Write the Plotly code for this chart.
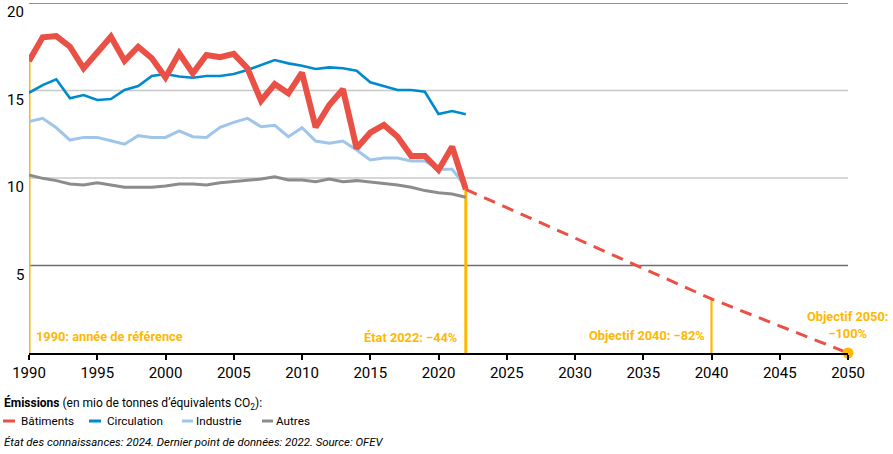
import plotly.graph_objects as go

years = list(range(1990, 2023))
batiments = [16.69, 18.04, 18.11, 17.5, 16.27, 17.22, 18.07, 16.7, 17.5, 16.84, 15.75,
             17.13, 15.98, 17.03, 16.9, 17.09, 16.27, 14.42, 15.37, 14.84, 16.02,
             12.9, 14.17, 15.07, 11.7, 12.59, 13.03, 12.36, 11.26, 11.26, 10.46, 11.79, 9.35]
circulation = [14.87, 15.31, 15.64, 14.55, 14.74, 14.46, 14.51, 15.03, 15.26, 15.83, 15.94,
               15.8, 15.73, 15.83, 15.83, 15.94, 16.17, 16.46, 16.74, 16.55, 16.42,
               16.23, 16.32, 16.27, 16.13, 15.47, 15.26, 15.03, 15.03, 14.93, 13.66, 13.83, 13.64]
industrie = [13.22, 13.41, 12.87, 12.17, 12.32, 12.32, 12.13, 11.93, 12.42, 12.32, 12.32,
             12.69, 12.36, 12.32, 12.9, 13.18, 13.41, 12.93, 13.01, 12.36, 12.87,
             12.11, 11.98, 12.11, 11.6, 11.03, 11.14, 11.14, 10.97, 10.97, 10.5, 10.5, 9.5]
autres = [10.17, 9.98, 9.85, 9.66, 9.6, 9.73, 9.6, 9.47, 9.47, 9.47, 9.54,
          9.66, 9.66, 9.6, 9.73, 9.79, 9.85, 9.94, 10.07, 9.89, 9.89,
          9.79, 9.94, 9.79, 9.85, 9.77, 9.66, 9.6, 9.47, 9.28, 9.16, 9.09, 8.9]

trend_years = [2022, 2040, 2050]
trend_values = [9.35, 3.09, 0.0]

marker_years = [1990, 2022, 2040]
marker_values = [16.69, 9.35, 3.09]

x_ticks = list(range(1990, 2051, 5))
y_ticks = [5, 10, 15, 20]

RED = "rgb(233,80,70)"
BLUE = "rgb(0,138,204)"
LBLUE = "rgb(160,197,234)"
GREY = "rgb(140,140,140)"
YEL = "rgb(255,184,0)"
FONT = "Roboto, Arial, sans-serif"

fig = go.Figure()

# yellow reference lines
widths = [3, 3, 2.2]
for xv, yv, w in zip(marker_years, marker_values, widths):
    fig.add_trace(go.Scatter(x=[xv, xv], y=[0, yv], mode="lines",
                             line=dict(color=YEL, width=w), showlegend=False,
                             hoverinfo="skip", cliponaxis=False))

fig.add_trace(go.Scatter(x=years, y=autres, mode="lines", name="Autres",
                         line=dict(color=GREY, width=3), showlegend=False))
fig.add_trace(go.Scatter(x=years, y=industrie, mode="lines", name="Industrie",
                         line=dict(color=LBLUE, width=3), showlegend=False))
fig.add_trace(go.Scatter(x=years, y=circulation, mode="lines", name="Circulation",
                         line=dict(color=BLUE, width=2.6), showlegend=False))
fig.add_trace(go.Scatter(x=years, y=batiments, mode="lines", name="Bâtiments",
                         line=dict(color=RED, width=6), showlegend=False))
fig.add_trace(go.Scatter(x=trend_years, y=trend_values, mode="lines",
                         line=dict(color=RED, width=3, dash="12px,8px"),
                         showlegend=False, hoverinfo="skip"))
fig.add_trace(go.Scatter(x=[trend_years[-1]], y=[trend_values[-1]], mode="markers",
                         marker=dict(color=YEL, size=11), showlegend=False,
                         cliponaxis=False, hoverinfo="skip"))

# gridlines
grid_cols = {5: "rgb(110,110,110)", 10: "rgb(200,200,200)", 15: "rgb(200,200,200)", 20: "rgb(110,110,110)"}
for v in y_ticks:
    fig.add_shape(type="line", xref="x", yref="y", x0=1990, x1=2050, y0=v, y1=v,
                  line=dict(color=grid_cols[v], width=1.3), layer="below")

ann = []
# y tick labels (sit slightly below their gridlines, as in the reference)
for v in y_ticks:
    ann.append(dict(x=0, y=v, xref="paper", yref="y", xanchor="right", yanchor="middle",
                    xshift=-3, yshift=-9, text=str(v), showarrow=False,
                    font=dict(color="black", size=15, family=FONT)))

YS = 12.8
ann.append(dict(x=1990, y=0.97, xref="x", yref="y", xanchor="left", yanchor="middle",
                xshift=5, text="<b>1990: année de référence</b>", showarrow=False,
                font=dict(color=YEL, size=YS, family=FONT)))
ann.append(dict(x=2022, y=0.91, xref="x", yref="y", xanchor="right", yanchor="middle",
                xshift=-7, text="<b>État 2022: −44%</b>", showarrow=False,
                font=dict(color=YEL, size=YS, family=FONT)))
ann.append(dict(x=2040, y=1.0, xref="x", yref="y", xanchor="right", yanchor="middle",
                xshift=-5, text="<b>Objectif 2040: −82%</b>", showarrow=False,
                font=dict(color=YEL, size=YS, family=FONT)))
ann.append(dict(x=2050, y=1.6, xref="x", yref="y", xanchor="center", yanchor="middle",
                xshift=-1, text="<b>Objectif 2050:<br>−100%</b>", showarrow=False,
                align="center", font=dict(color=YEL, size=YS, family=FONT)))

def px_x(x):
    return (x - 29) / 819.0

def px_y(y):
    return (353 - y) / 350.0

ann.append(dict(x=px_x(2), y=px_y(403), xref="paper", yref="paper", xanchor="left",
                yanchor="middle", showarrow=False,
                text="<b>Émissions</b> (en mio de tonnes d’équivalents CO<sub>2</sub>):",
                font=dict(color="black", size=12, family=FONT)))

legend_items = [("Bâtiments", RED, 3, 15, 19), ("Circulation", BLUE, 89, 101, 105),
                ("Industrie", LBLUE, 182, 193, 194), ("Autres", GREY, 262, 273, 274)]
for name, col, x0, x1, xt in legend_items:
    fig.add_shape(type="line", xref="paper", yref="paper", x0=px_x(x0), x1=px_x(x1),
                  y0=px_y(421), y1=px_y(421), line=dict(color=col, width=3))
    ann.append(dict(x=px_x(xt), y=px_y(421), xref="paper", yref="paper", xanchor="left",
                    yanchor="middle", showarrow=False, text=name,
                    font=dict(color="black", size=11.7, family=FONT)))

ann.append(dict(x=px_x(2), y=px_y(442), xref="paper", yref="paper", xanchor="left",
                yanchor="middle", showarrow=False,
                text="<i>État des connaissances: 2024. Dernier point de données: 2022. Source: OFEV</i>",
                font=dict(color="black", size=11.4, family=FONT)))

fig.update_layout(
    width=893, height=454,
    margin=dict(l=29, r=45, t=3, b=101, autoexpand=False),
    paper_bgcolor="white", plot_bgcolor="white",
    font=dict(family=FONT, size=13, color="black"),
    annotations=ann,
    showlegend=False,
)
fig.update_xaxes(range=[1990, 2050], tickvals=x_ticks, ticks="outside", ticklen=5,
                 tickwidth=1.5, tickcolor="black", showline=True, linecolor="black",
                 linewidth=1.5, showgrid=False, zeroline=False, automargin=False,
                 tickfont=dict(size=15, family=FONT), ticklabelstandoff=0)
fig.update_yaxes(range=[0, 20], tickvals=y_ticks, showgrid=False, zeroline=False,
                 showline=False, ticks="", showticklabels=False, automargin=False)

fig.write_html("out.html", config={"displayModeBar": False},
               post_script="document.body.style.margin='0';")
